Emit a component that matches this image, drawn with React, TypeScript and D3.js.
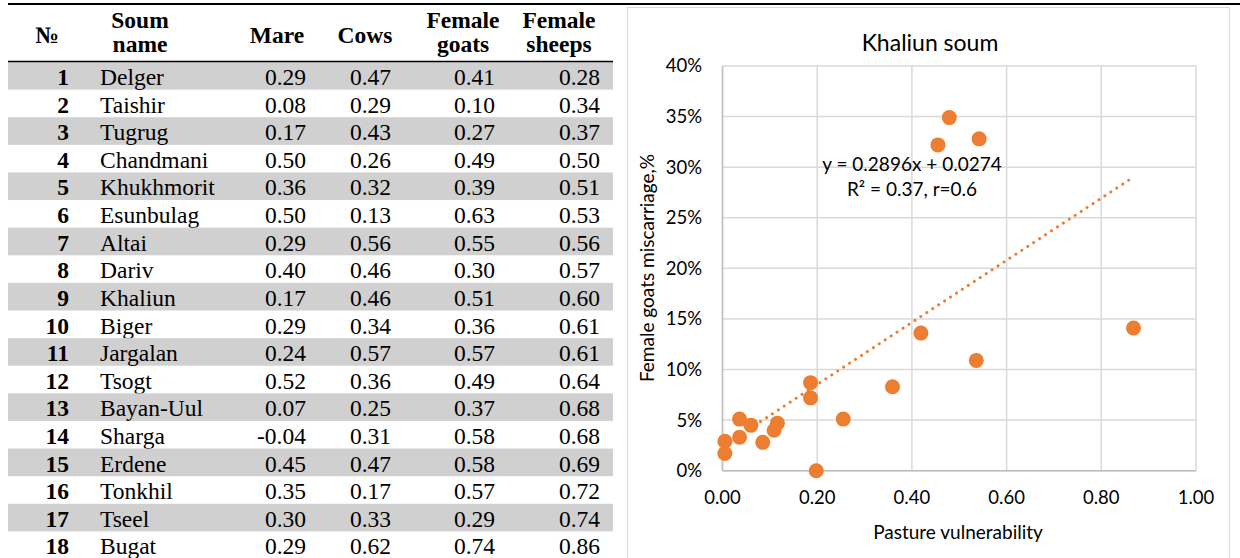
import React from "react";
import * as d3 from "d3";

// table
const soumNames = [
  "Delger", "Taishir", "Tugrug", "Chandmani", "Khukhmorit", "Esunbulag",
  "Altai", "Dariv", "Khaliun", "Biger", "Jargalan", "Tsogt",
  "Bayan-Uul", "Sharga", "Erdene", "Tonkhil", "Tseel", "Bugat",
];
const mare = [0.29, 0.08, 0.17, 0.5, 0.36, 0.5, 0.29, 0.4, 0.17, 0.29, 0.24, 0.52, 0.07, -0.04, 0.45, 0.35, 0.3, 0.29];
const cows = [0.47, 0.29, 0.43, 0.26, 0.32, 0.13, 0.56, 0.46, 0.46, 0.34, 0.57, 0.36, 0.25, 0.31, 0.47, 0.17, 0.33, 0.62];
const femaleGoats = [0.41, 0.1, 0.27, 0.49, 0.39, 0.63, 0.55, 0.3, 0.51, 0.36, 0.57, 0.49, 0.37, 0.58, 0.58, 0.57, 0.29, 0.74];
const femaleSheeps = [0.28, 0.34, 0.37, 0.5, 0.51, 0.53, 0.56, 0.57, 0.6, 0.61, 0.61, 0.64, 0.68, 0.68, 0.69, 0.72, 0.74, 0.86];

// scatter (Khaliun soum)
const vulnerability = [0.479, 0.455, 0.542, 0.419, 0.868, 0.536, 0.186, 0.186, 0.359, 0.255, 0.198, 0.036, 0.06, 0.116, 0.109, 0.036, 0.005, 0.085, 0.005];
const goatMiscarriage = [0.349, 0.322, 0.328, 0.136, 0.141, 0.109, 0.087, 0.072, 0.083, 0.051, 0.0, 0.051, 0.045, 0.047, 0.04, 0.033, 0.029, 0.028, 0.017];
const xTicks = [0, 0.2, 0.4, 0.6, 0.8, 1.0];
const yTicks = [0, 0.05, 0.1, 0.15, 0.2, 0.25, 0.3, 0.35, 0.4];

const ORANGE = "#ED7D31";
const serif = "'Liberation Serif', 'Times New Roman', serif";
const sans = "Lato, 'Open Sans', sans-serif";

export default function App() {
  const rows = d3.scaleBand<number>().domain(d3.range(soumNames.length)).range([62, 559]);
  const x = d3.scaleLinear().domain([0, 1]).range([722.5, 1196]);
  const y = d3.scaleLinear().domain([0, 0.4]).range([470.7, 66]);

  // least squares trendline from the points
  const mx = d3.mean(vulnerability)!;
  const my = d3.mean(goatMiscarriage)!;
  const sxy = d3.sum(vulnerability, (v, i) => (v - mx) * (goatMiscarriage[i] - my));
  const sxx = d3.sum(vulnerability, (v) => (v - mx) * (v - mx));
  const slope = sxy / sxx;
  const icpt = my - slope * mx;
  const [x0, x1] = d3.extent(vulnerability) as [number, number];
  const trend = d3.line<number>().x((d) => x(d)).y((d) => y(icpt + slope * d))([x0, x1]);

  const pct = d3.format(".0%");
  const f2 = (v: number) => v.toFixed(2); // plain hyphen for negatives, like the source

  const valueCols = [
    { data: mare, right: 306 },
    { data: cows, right: 391 },
    { data: femaleGoats, right: 495 },
    { data: femaleSheeps, right: 600 },
  ];

  return (
    <>
      <style>{`body{margin:0}`}</style>
      <svg width={1240} height={558} style={{ display: "block" }}>
        <rect width={1240} height={558} fill="#fff" />

        {/* table */}
        {soumNames.map((name, i) => (
          <g key={name}>
            {i % 2 === 0 && (
              <rect x={8} y={rows(i)} width={605} height={rows.bandwidth()} fill="#d0d0d0" />
            )}
            <text x={69} y={rows(i)! + 23} textAnchor="end" fontFamily={serif} fontSize={23.5} fontWeight="bold">
              {i + 1}
            </text>
            <text x={100} y={rows(i)! + 23} fontFamily={serif} fontSize={23.5}>
              {name}
            </text>
            {valueCols.map((c, j) => (
              <text key={j} x={c.right} y={rows(i)! + 23} textAnchor="end" fontFamily={serif} fontSize={23.5}>
                {f2(c.data[i])}
              </text>
            ))}
          </g>
        ))}
        <g fontFamily={serif} fontSize={23.5} fontWeight="bold" textAnchor="middle">
          <text x={47} y={43}>№</text>
          <text x={140} y={28}>Soum</text>
          <text x={140} y={52}>name</text>
          <text x={277} y={43}>Mare</text>
          <text x={365} y={43}>Cows</text>
          <text x={463} y={28}>Female</text>
          <text x={463} y={52}>goats</text>
          <text x={559} y={28}>Female</text>
          <text x={559} y={52}>sheeps</text>
        </g>
        <line x1={8} x2={1240} y1={4} y2={4} stroke="#000" strokeWidth={2} />
        <line x1={8} x2={613} y1={61.5} y2={61.5} stroke="#000" strokeWidth={1.5} />

        {/* chart */}
        <rect x={627.5} y={7.5} width={602} height={560} fill="#fff" stroke="#d9d9d9" />
        <text x={930} y={51} textAnchor="middle" fontFamily={sans} fontSize={23} fill="#000">
          Khaliun soum
        </text>
        {yTicks.map((t) => (
          <g key={t}>
            <line x1={x(0)} x2={x(1)} y1={y(t)} y2={y(t)} stroke="#d9d9d9" strokeWidth={1.5} />
            <text x={702} y={y(t)} dy="0.35em" textAnchor="end" fontFamily={sans} fontSize={18.5} fill="#000">
              {pct(t)}
            </text>
          </g>
        ))}
        {xTicks.map((t) => (
          <g key={t}>
            <line x1={x(t)} x2={x(t)} y1={y(0)} y2={y(0.4)} stroke="#d9d9d9" strokeWidth={1.5} />
            <text x={x(t)} y={498} dy="0.35em" textAnchor="middle" fontFamily={sans} fontSize={18.5} fill="#000">
              {f2(t)}
            </text>
          </g>
        ))}
        <line x1={x(0)} x2={x(1)} y1={y(0)} y2={y(0)} stroke="#bfbfbf" strokeWidth={1.5} />
        <line x1={x(0)} x2={x(0)} y1={y(0)} y2={y(0.4)} stroke="#bfbfbf" strokeWidth={1.5} />

        <path d={trend ?? ""} fill="none" stroke={ORANGE} strokeWidth={3} strokeDasharray="0.1 7" strokeLinecap="round" />
        {vulnerability.map((v, i) => (
          <circle key={i} cx={x(v)} cy={y(goatMiscarriage[i])} r={7.5} fill={ORANGE} />
        ))}

        <g fontFamily={sans} fontSize={19} textAnchor="middle" fill="#000">
          <text x={912} y={171}>y = 0.2896x + 0.0274</text>
          <text x={912} y={196}>R² = 0.37, r=0.6</text>
        </g>
        <text x={958} y={532} dy="0.35em" textAnchor="middle" fontFamily={sans} fontSize={19}>
          Pasture vulnerability
        </text>
        <text
          transform={`translate(647,268) rotate(-90)`}
          dy="0.35em"
          textAnchor="middle"
          fontFamily={sans}
          fontSize={19}
        >
          Female goats miscarriage,%
        </text>
      </svg>
    </>
  );
}
